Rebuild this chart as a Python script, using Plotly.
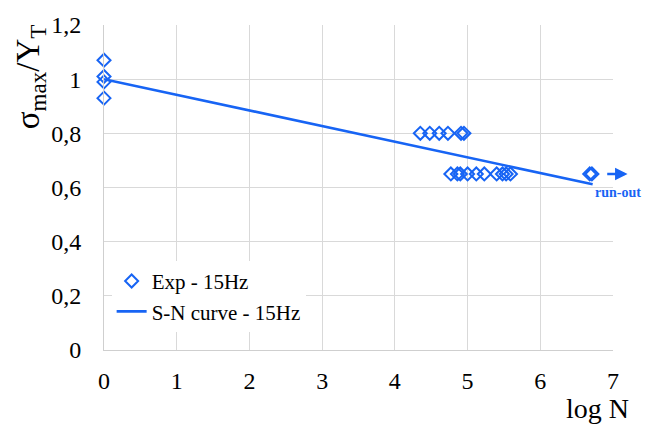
import plotly.graph_objects as go

# Experimental fatigue data at 15 Hz (log N, normalized max stress)
exp_logN = [0, 0, 0, 0,
            4.35, 4.48, 4.61, 4.73, 4.91, 4.95,
            4.77, 4.86, 4.90, 5.00, 5.12, 5.23, 5.40, 5.48, 5.53, 5.59,
            6.68, 6.71]
exp_stress = [1.07, 1.01, 0.99, 0.93,
              0.80, 0.80, 0.80, 0.80, 0.80, 0.80,
              0.65, 0.65, 0.65, 0.65, 0.65, 0.65, 0.65, 0.65, 0.65, 0.65,
              0.65, 0.65]

# S-N curve endpoints
sn_logN = [0, 6.72]
sn_stress = [1.0, 0.612]

x_ticks = [0, 1, 2, 3, 4, 5, 6, 7]
y_ticks = [0, 0.2, 0.4, 0.6, 0.8, 1.0, 1.2]

blue = "#1764f4"
grid = "#d9d9d9"
serif = "Liberation Serif"

fig = go.Figure()
fig.add_trace(go.Scatter(
    x=exp_logN, y=exp_stress, mode="markers", name="Exp - 15Hz",
    marker=dict(symbol="diamond-open", size=10, color=blue,
                line=dict(width=2, color=blue)),
    cliponaxis=False,
))
fig.add_trace(go.Scatter(
    x=sn_logN, y=sn_stress, mode="lines", name="S-N curve - 15Hz",
    line=dict(color=blue, width=2.6),
))

# run-out arrow and label
fig.add_annotation(x=7.2, y=0.65, ax=6.9, ay=0.65, xref="x", yref="y",
                   axref="x", ayref="y", showarrow=True, arrowhead=2,
                   arrowsize=1, arrowwidth=2.5, arrowcolor=blue, text="")
fig.add_annotation(x=6.72, y=0.58, xref="x", yref="y", showarrow=False,
                   text="<b>run-out</b>", xanchor="left", yanchor="middle",
                   font=dict(family=serif, size=14, color=blue))

# axis titles
fig.add_annotation(x=-0.145, y=0.84, xref="paper", yref="paper",
                   showarrow=False, textangle=-90,
                   text="σ<sub>max</sub>/Y<sub>T</sub>",
                   xanchor="center", yanchor="middle",
                   font=dict(family=serif, size=33, color="black"))
fig.add_annotation(x=0.97, y=-0.18, xref="paper", yref="paper",
                   showarrow=False, text="log N",
                   xanchor="center", yanchor="middle",
                   font=dict(family=serif, size=28, color="black"))

fig.update_layout(
    width=645, height=425,
    margin=dict(l=104, r=32, t=23, b=75),
    paper_bgcolor="white", plot_bgcolor="white",
    separators=", ",
    font=dict(family=serif, size=24, color="black"),
    showlegend=True,
    legend=dict(x=0.015, y=0.165, xanchor="left", yanchor="middle",
                bgcolor="white", font=dict(family=serif, size=21),
                itemwidth=30),
    xaxis=dict(range=[0, 7], tickvals=x_ticks, showgrid=True,
               gridcolor=grid, gridwidth=1, zeroline=False,
               showline=True, linecolor="#cfcfcf", linewidth=1,
               ticks="", ticklabelstandoff=9,
               tickfont=dict(family=serif, size=24)),
    yaxis=dict(range=[0, 1.2], tickvals=y_ticks, showgrid=True,
               gridcolor=grid, gridwidth=1, zeroline=False,
               showline=True, linecolor="#cfcfcf", linewidth=1,
               ticks="", ticklabelstandoff=17,
               tickfont=dict(family=serif, size=24)),
)

fig.write_html("out.html")
